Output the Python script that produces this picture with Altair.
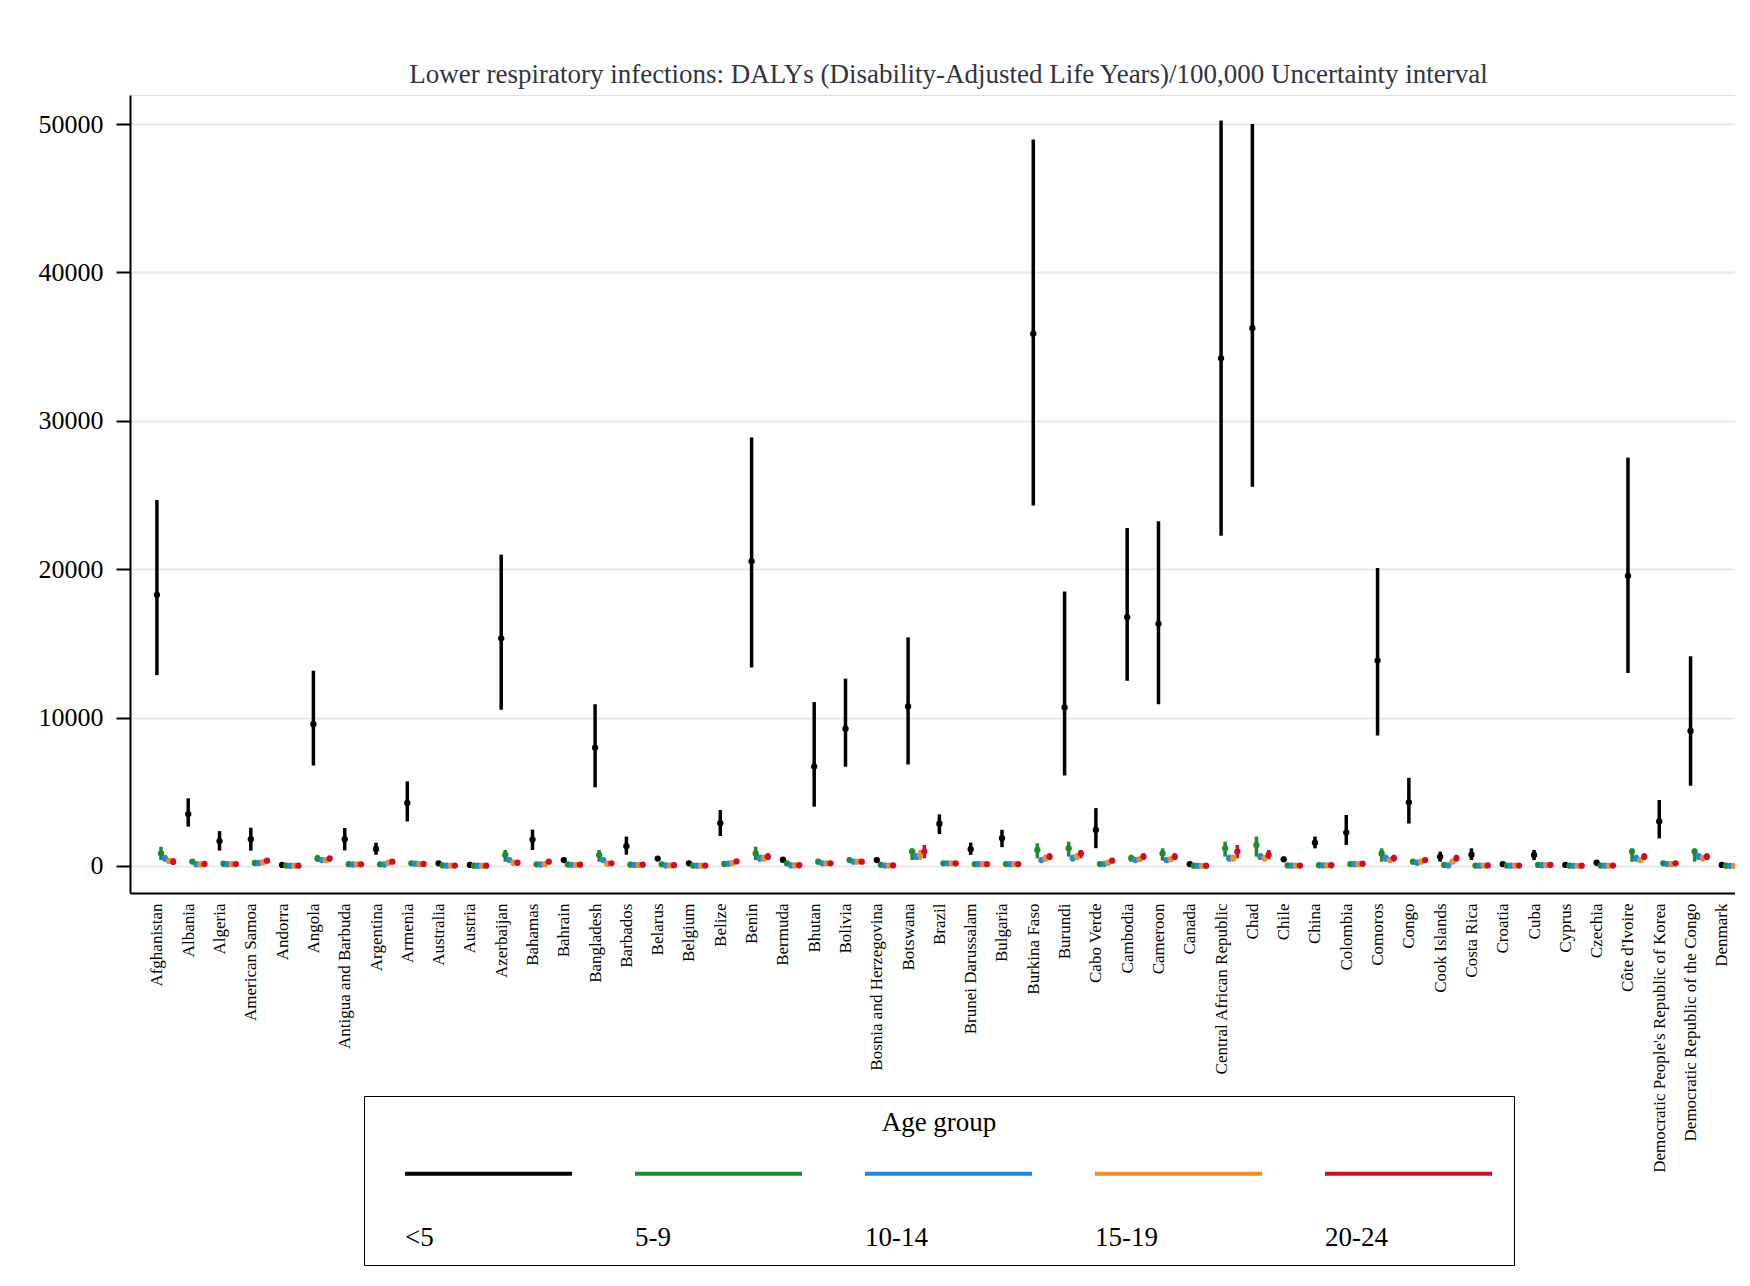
import json
import altair as alt
import pandas as pd

countries = [
    "Afghanistan", "Albania", "Algeria", "American Samoa", "Andorra", "Angola",
    "Antigua and Barbuda", "Argentina", "Armenia", "Australia", "Austria", "Azerbaijan",
    "Bahamas", "Bahrain", "Bangladesh", "Barbados", "Belarus", "Belgium", "Belize",
    "Benin", "Bermuda", "Bhutan", "Bolivia", "Bosnia and Herzegovina", "Botswana",
    "Brazil", "Brunei Darussalam", "Bulgaria", "Burkina Faso", "Burundi", "Cabo Verde",
    "Cambodia", "Cameroon", "Canada", "Central African Republic", "Chad", "Chile",
    "China", "Colombia", "Comoros", "Congo", "Cook Islands", "Costa Rica", "Croatia",
    "Cuba", "Cyprus", "Czechia", "Côte d'Ivoire",
    "Democratic People's Republic of Korea", "Democratic Republic of the Congo", "Denmark",
]
age_groups = ["<5", "5-9", "10-14", "15-19", "20-24"]
colors = ["#000000", "#1f8a2e", "#1e88e5", "#f28c28", "#c8102e"]
y_ticks = [0, 10000, 20000, 30000, 40000, 50000]

# <5
u5_mean = [18270, 3500, 1680, 1800, 70, 9550, 1800, 1150, 4250, 180, 70, 15340, 1780, 400,
           7970, 1330, 500, 180, 2880, 20530, 420, 6700, 9250, 400, 10750, 2850, 1130, 1870,
           35870, 10680, 2430, 16770, 16320, 130, 34210, 36240, 450, 1570, 2250, 13840, 4290,
           630, 760, 130, 740, 70, 220, 19550, 3000, 9100, 70]
u5_lo = [12860, 2650, 1040, 1030, 40, 6770, 1050, 760, 3000, 130, 50, 10530, 1080, 300,
         5300, 760, 380, 130, 2020, 13380, 300, 4000, 6690, 300, 6840, 2150, 750, 1270,
         24290, 6100, 1200, 12480, 10900, 90, 22260, 25560, 290, 1190, 1420, 8800, 2860,
         290, 400, 90, 400, 50, 160, 13010, 1860, 5410, 50]
u5_hi = [24660, 4560, 2350, 2580, 110, 13160, 2560, 1570, 5700, 240, 100, 20980, 2450, 520,
         10900, 1980, 640, 240, 3770, 28870, 540, 11050, 12630, 520, 15410, 3480, 1570, 2440,
         48950, 18500, 3900, 22780, 23230, 180, 50230, 50000, 630, 1980, 3440, 20080, 5940,
         970, 1190, 180, 1080, 100, 290, 27520, 4450, 14140, 100]

# 5-9
g59_mean = [850, 300, 150, 200, 30, 500, 120, 110, 180, 40, 20, 740, 110, 100, 740, 90, 110,
            30, 140, 850, 180, 290, 400, 80, 970, 180, 130, 130, 1080, 1190, 130, 520, 850,
            20, 1190, 1420, 40, 50, 130, 850, 290, 70, 30, 30, 70, 20, 30, 970, 180, 970, 20]
g59_lo = [400, 200, 100, 130, 10, 290, 70, 60, 120, 20, 10, 290, 60, 60, 290, 50, 70, 20, 80,
          400, 100, 180, 250, 50, 400, 120, 80, 80, 520, 630, 80, 300, 360, 10, 630, 630, 20,
          30, 80, 290, 180, 40, 20, 20, 40, 10, 20, 290, 110, 290, 10]
g59_hi = [1300, 420, 210, 280, 50, 750, 180, 170, 260, 60, 30, 1080, 170, 150, 1080, 140, 150,
          50, 200, 1300, 260, 420, 560, 120, 1190, 260, 190, 190, 1530, 1640, 190, 760, 1190,
          30, 1640, 1980, 60, 80, 190, 1190, 420, 110, 50, 50, 110, 30, 50, 1190, 260, 1190, 30]

# 10-14
g1014_mean = [500, 120, 120, 200, 15, 400, 100, 100, 150, 20, 15, 400, 100, 80, 400, 70, 40,
              20, 150, 520, 40, 180, 290, 30, 630, 180, 120, 120, 400, 520, 130, 400, 400, 10,
              520, 630, 20, 40, 120, 520, 220, 40, 20, 20, 50, 10, 20, 520, 130, 630, 10]
g1014_lo = [300, 70, 70, 120, 5, 250, 60, 60, 100, 10, 5, 250, 60, 50, 250, 40, 20, 10, 90,
            300, 20, 110, 180, 20, 400, 110, 70, 70, 250, 300, 80, 250, 250, 5, 300, 400, 10,
            20, 70, 300, 130, 20, 10, 10, 30, 5, 10, 300, 80, 400, 5]
g1014_hi = [740, 180, 170, 290, 30, 560, 150, 150, 220, 40, 25, 560, 150, 120, 560, 110, 60,
            30, 220, 760, 60, 260, 420, 50, 860, 260, 170, 170, 560, 760, 190, 560, 560, 20,
            760, 860, 30, 60, 170, 760, 320, 60, 30, 30, 80, 20, 30, 760, 190, 860, 20]

# 15-19
g1519_mean = [340, 100, 120, 250, 15, 400, 100, 220, 120, 20, 15, 220, 120, 80, 150, 70, 40,
              20, 200, 520, 40, 180, 290, 30, 740, 180, 120, 120, 520, 630, 220, 450, 450, 10,
              520, 520, 20, 40, 120, 400, 290, 290, 30, 20, 60, 10, 20, 400, 130, 520, 10]
g1519_lo = [150, 60, 70, 150, 5, 250, 60, 130, 70, 10, 5, 130, 70, 50, 90, 40, 20, 10, 120,
            300, 20, 110, 180, 20, 400, 110, 70, 70, 300, 400, 130, 280, 280, 5, 300, 300, 10,
            20, 70, 250, 180, 180, 20, 10, 30, 5, 10, 250, 80, 300, 5]
g1519_hi = [520, 150, 170, 360, 30, 560, 150, 320, 170, 40, 25, 320, 170, 120, 220, 110, 60,
            30, 290, 760, 60, 260, 420, 50, 1080, 260, 170, 170, 760, 860, 320, 630, 630, 20,
            760, 760, 30, 60, 170, 560, 420, 420, 50, 30, 90, 20, 30, 560, 190, 760, 20]

# 20-24
g2024_mean = [290, 140, 130, 360, 20, 500, 110, 290, 140, 30, 20, 220, 290, 90, 180, 90, 50,
              30, 310, 630, 50, 180, 290, 40, 970, 180, 130, 130, 630, 850, 360, 630, 630, 15,
              970, 740, 30, 50, 150, 520, 400, 520, 40, 30, 70, 15, 30, 630, 180, 630, 15]
g2024_lo = [70, 80, 80, 220, 10, 300, 60, 180, 80, 15, 10, 130, 180, 50, 110, 50, 30, 15, 190,
            400, 30, 110, 180, 20, 520, 110, 80, 80, 400, 520, 220, 400, 400, 5, 520, 450, 15,
            30, 90, 300, 250, 300, 20, 15, 40, 5, 15, 400, 110, 400, 5]
g2024_hi = [520, 200, 190, 520, 35, 700, 170, 420, 200, 50, 30, 320, 420, 140, 260, 140, 80,
            50, 450, 860, 80, 260, 420, 60, 1420, 260, 190, 190, 860, 1080, 520, 860, 860, 25,
            1420, 1080, 50, 80, 220, 760, 560, 760, 60, 50, 110, 25, 50, 860, 260, 860, 25]

series = [
    (u5_mean, u5_lo, u5_hi),
    (g59_mean, g59_lo, g59_hi),
    (g1014_mean, g1014_lo, g1014_hi),
    (g1519_mean, g1519_lo, g1519_hi),
    (g2024_mean, g2024_lo, g2024_hi),
]

rows = []
for gi, (m, lo, hi) in enumerate(series):
    for ci, c in enumerate(countries):
        rows.append({"country": c, "ci": ci, "gi": gi, "group": age_groups[gi],
                     "mean": m[ci], "lo": lo[ci], "hi": hi[ci]})
df = pd.DataFrame(rows)

FONT = "Liberation Serif"
names_js = json.dumps(countries, ensure_ascii=False)

x_enc = alt.X(
    "xpos:Q",
    scale=alt.Scale(domain=[-0.86, 50.42], nice=False, zero=False),
    axis=alt.Axis(
        title=None, values=list(range(len(countries))),
        labelExpr=f"{names_js}[round(datum.value)]",
        labelAngle=270, labelFontSize=17, labelFont=FONT, labelColor="black",
        ticks=False, labelPadding=10, grid=False, labelOverlap=False, labelFlush=False,
        labelLimit=0, domainColor="black", domainWidth=2,
    ),
)
y_scale = alt.Scale(domain=[-1820, 51955], nice=False, zero=False)
y_axis = alt.Axis(
    title=None, values=y_ticks, format="d", labelFontSize=26, labelFont=FONT,
    labelColor="black", tickSize=14, tickWidth=2, tickColor="black", labelPadding=13,
    grid=True, gridColor="#e8e8e8", gridWidth=2, domainColor="black", domainWidth=2,
)

color_enc = alt.Color(
    "group:N",
    scale=alt.Scale(domain=age_groups, range=colors),
    legend=alt.Legend(
        title="Age group", orient="none", legendX=234, legendY=1001,
        direction="horizontal", columns=5,
        symbolType="M1.35,-6.4L18.05,-6.4", symbolSize=400, symbolStrokeWidth=4,
        labelOffset=0, columnPadding=28, padding=14, strokeColor="black",
        titleAnchor="middle", titleFontSize=27, titleFont=FONT, titleFontWeight="normal",
        titleColor="black", labelFontSize=27, labelFont=FONT, labelColor="black",
        titlePadding=87, labelLimit=0,
    ),
)

base = alt.Chart(df).transform_calculate(xpos="datum.ci + datum.gi * 0.13")

rules = base.mark_rule(strokeWidth=3.5).encode(
    x=x_enc,
    y=alt.Y("lo:Q", scale=y_scale, axis=y_axis),
    y2="hi:Q",
    color=color_enc,
)
points = base.mark_point(filled=True, size=40, opacity=1).encode(
    x=x_enc,
    y=alt.Y("mean:Q", scale=y_scale, axis=y_axis),
    color=color_enc,
)

chart = (
    alt.layer(rules, points)
    .properties(
        width=1605, height=798,
        autosize=alt.AutoSizeParams(type="none"),
        padding={"left": 122, "top": 87, "right": 0, "bottom": 390},
        title=alt.TitleParams(
            text="Lower respiratory infections: DALYs (Disability-Adjusted Life Years)/100,000 Uncertainty interval",
            fontSize=27, font=FONT, fontWeight="normal", color="#333340",
            anchor="middle", offset=6, dx=16,
        ),
    )
    .configure_view(strokeWidth=0)
    .configure_legend(strokeWidth=2)
    .configure(background="white")
)

chart.save("out.html", embed_options={"renderer": "svg", "actions": False})
